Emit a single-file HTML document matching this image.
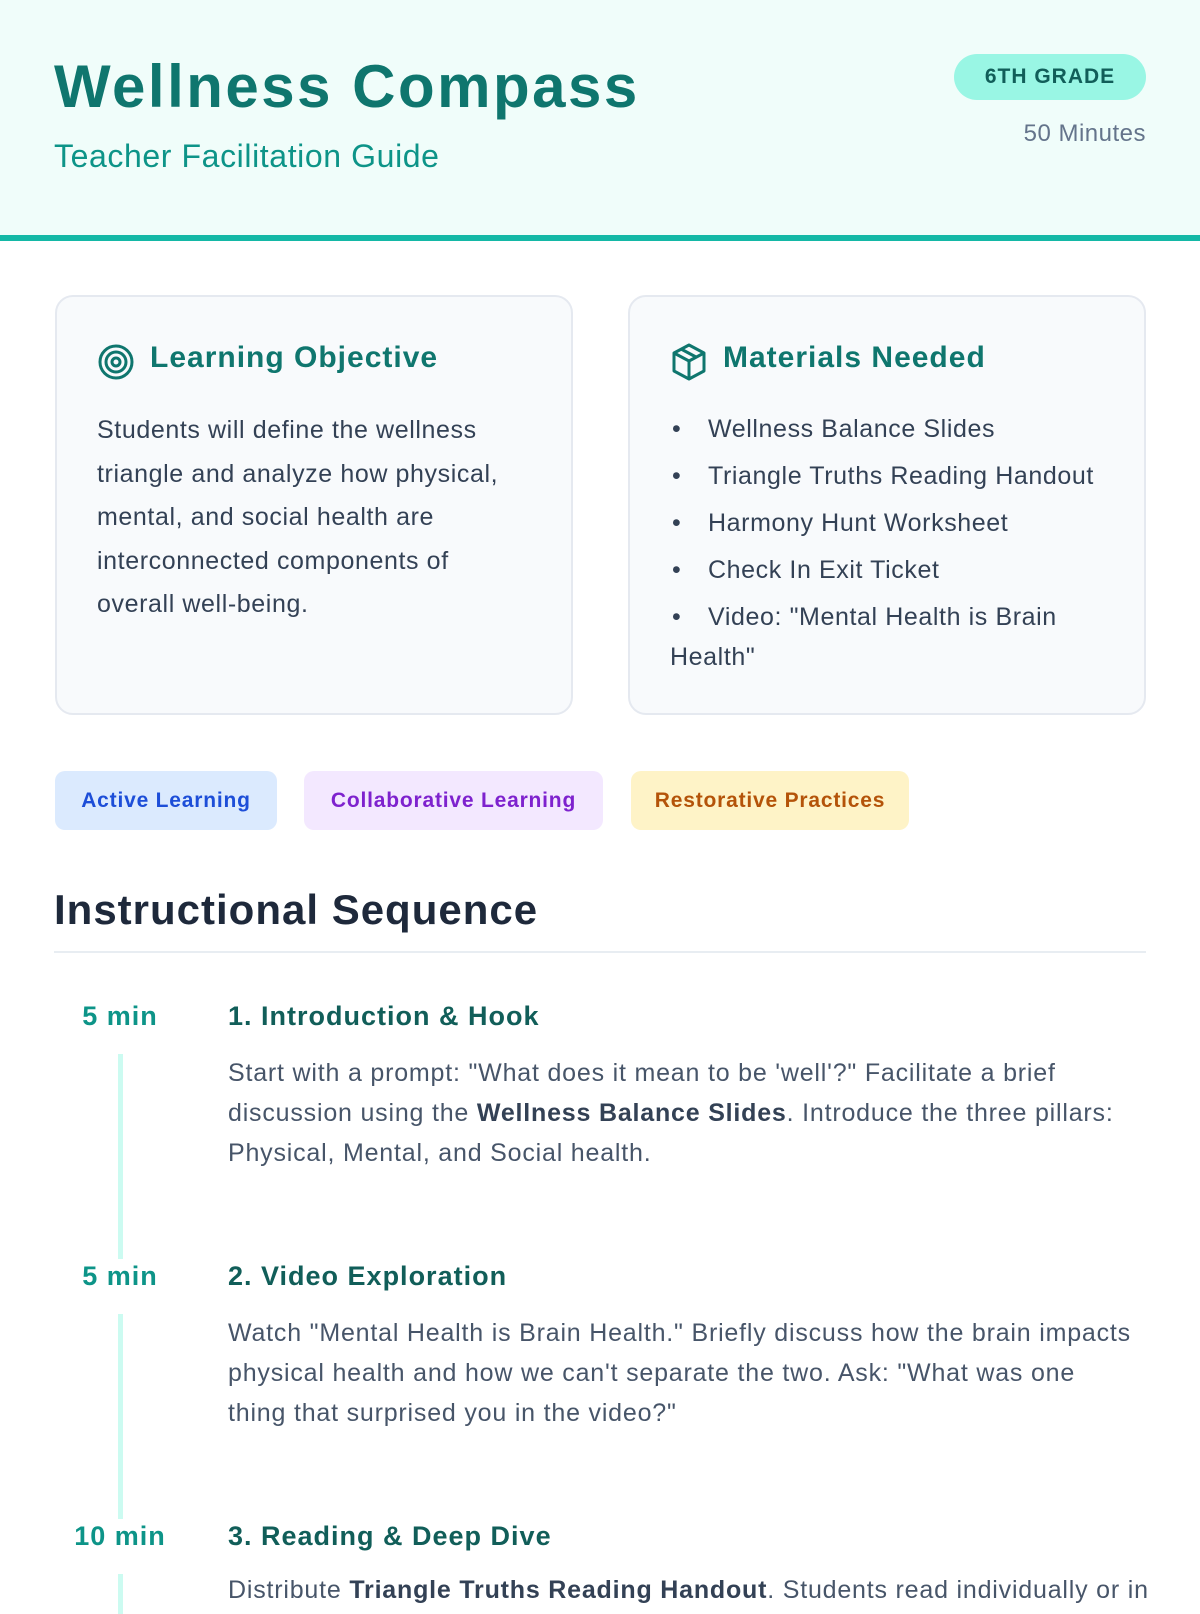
<!DOCTYPE html>
<html><head><meta charset="utf-8"><style>
*{margin:0;padding:0;box-sizing:border-box}
body{width:1200px;height:1600px;overflow:hidden;background:#fff;font-family:"Liberation Sans",sans-serif;position:relative}
.a{position:absolute;white-space:nowrap}
.hdr{position:absolute;left:0;top:0;width:1200px;height:241px;background:#f0fdfa;border-bottom:6px solid #14b8a6}
.card{position:absolute;top:295px;width:518px;height:420px;background:#f8fafc;border:2px solid #e5e9f0;border-radius:18px}
.ch{position:absolute;top:44px;font-size:30px;font-weight:bold;color:#0f766e;white-space:nowrap;letter-spacing:1px}
.tag{position:absolute;top:771px;height:59px;border-radius:10px;font-size:21px;font-weight:bold;line-height:59px;text-align:center;letter-spacing:0.8px}
.min{position:absolute;width:120px;left:60px;text-align:center;font-size:27px;font-weight:bold;color:#0d9488;letter-spacing:1px}
.tt{position:absolute;left:228px;font-size:27px;font-weight:bold;color:#115e59;white-space:nowrap;letter-spacing:1px}
.p{position:absolute;left:228px;font-size:25px;line-height:40px;color:#475569;white-space:nowrap;letter-spacing:0.8px}
.p b{color:#334155}
.vl{position:absolute;left:118px;width:5px;background:#ccfbf1}
.li{margin-bottom:7px}
.li span{display:inline-block;width:38px;padding-left:2px}
</style></head><body>
<div class="hdr"></div>
<div class="a" style="left:54px;top:52px;font-size:60px;font-weight:bold;color:#0f766e;letter-spacing:2.5px">Wellness Compass</div>
<div class="a" style="left:54px;top:138px;font-size:32px;color:#0d9488;letter-spacing:0.6px">Teacher Facilitation Guide</div>
<div class="a" style="left:954px;top:54px;width:192px;height:46px;border-radius:23px;background:#99f6e4;color:#115e59;font-size:21px;font-weight:bold;text-align:center;line-height:46px;letter-spacing:1px">6TH GRADE</div>
<div class="a" style="right:54px;top:120px;font-size:24px;color:#64748b;letter-spacing:0.5px">50 Minutes</div>

<div class="card" style="left:55px">
 <svg style="position:absolute;left:40px;top:46px" width="38" height="38" viewBox="0 0 38 38" fill="none" stroke="#0f766e" stroke-width="3"><circle cx="19" cy="19" r="16"/><circle cx="19" cy="19" r="10"/><circle cx="19" cy="19" r="4"/></svg>
 <div class="ch" style="left:93px">Learning Objective</div>
 <div class="a" style="left:40px;top:112px;font-size:25px;line-height:43.5px;color:#334155;letter-spacing:0.6px">Students will define the wellness<br>triangle and analyze how physical,<br>mental, and social health are<br>interconnected components of<br>overall well-being.</div>
</div>
<div class="card" style="left:628px">
 <svg style="position:absolute;left:40px;top:45px" width="38" height="40" viewBox="0 0 38 40" fill="none" stroke="#0f766e" stroke-width="3" stroke-linejoin="round"><path d="M19 3 L34 11 L34 29 L19 37 L4 29 L4 11 Z"/><path d="M4 11 L19 19 L34 11 M19 19 L19 37 M11 7 L26 15"/></svg>
 <div class="ch" style="left:93px">Materials Needed</div>
 <div class="a" style="left:40px;top:112px;font-size:25px;line-height:40px;color:#334155;letter-spacing:0.6px">
  <div class="li"><span>•</span>Wellness Balance Slides</div>
  <div class="li"><span>•</span>Triangle Truths Reading Handout</div>
  <div class="li"><span>•</span>Harmony Hunt Worksheet</div>
  <div class="li"><span>•</span>Check In Exit Ticket</div>
  <div><span style="display:inline-block;width:38px;padding-left:2px">•</span>Video: "Mental Health is Brain<br>Health"</div>
 </div>
</div>

<div class="tag" style="left:55px;width:222px;background:#dbeafe;color:#1d4ed8">Active Learning</div>
<div class="tag" style="left:304px;width:299px;background:#f3e8ff;color:#7e22ce">Collaborative Learning</div>
<div class="tag" style="left:631px;width:278px;background:#fef3c7;color:#b45309">Restorative Practices</div>

<div class="a" style="left:54px;top:886px;font-size:42px;font-weight:bold;color:#1e293b;letter-spacing:1px">Instructional Sequence</div>
<div class="a" style="left:54px;top:951px;width:1092px;height:2px;background:#e8edf2"></div>

<div class="min" style="top:1001px">5 min</div>
<div class="tt" style="top:1001px">1. Introduction &amp; Hook</div>
<div class="vl" style="top:1054px;height:205px"></div>
<div class="p" style="top:1053px">Start with a prompt: "What does it mean to be 'well'?" Facilitate a brief<br>discussion using the <b>Wellness Balance Slides</b>. Introduce the three pillars:<br>Physical, Mental, and Social health.</div>

<div class="min" style="top:1261px">5 min</div>
<div class="tt" style="top:1261px">2. Video Exploration</div>
<div class="vl" style="top:1314px;height:205px"></div>
<div class="p" style="top:1313px">Watch "Mental Health is Brain Health." Briefly discuss how the brain impacts<br>physical health and how we can't separate the two. Ask: "What was one<br>thing that surprised you in the video?"</div>

<div class="min" style="top:1521px">10 min</div>
<div class="tt" style="top:1521px">3. Reading &amp; Deep Dive</div>
<div class="vl" style="top:1574px;height:40px"></div>
<div class="p" style="top:1570px">Distribute <b>Triangle Truths Reading Handout</b>. Students read individually or in</div>
</body></html>
